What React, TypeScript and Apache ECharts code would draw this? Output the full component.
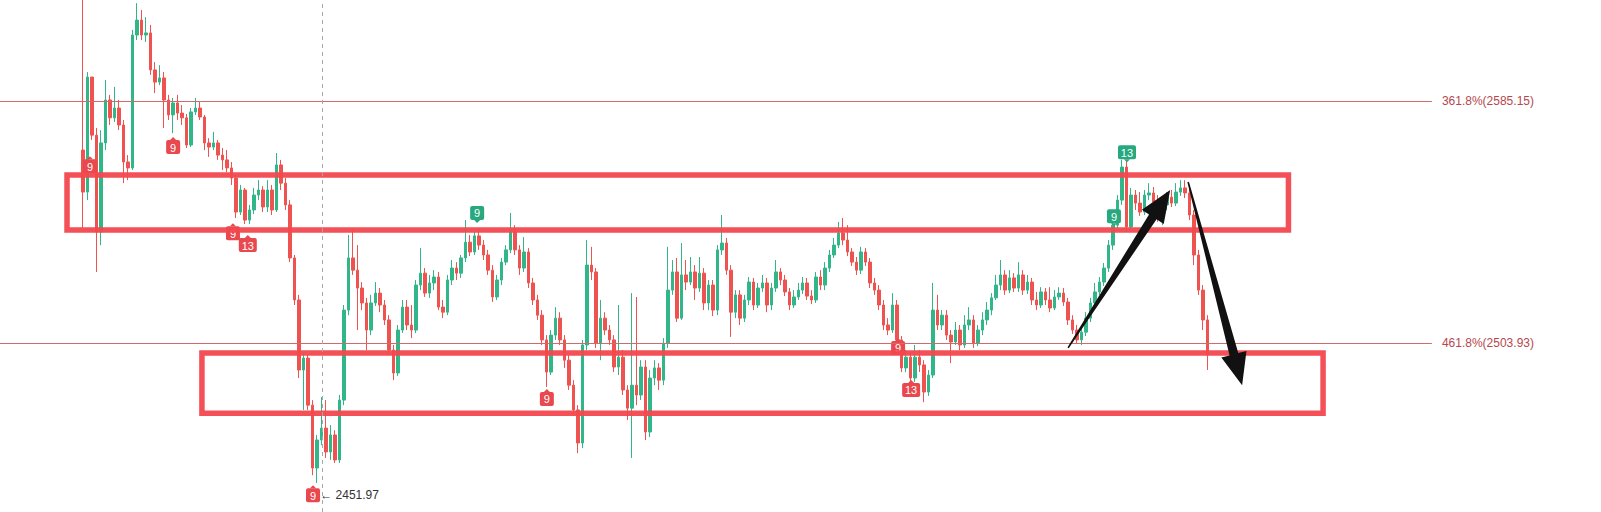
import React, { useEffect, useRef } from "react";
import * as echarts from "echarts";

// ---- axis extents (price units / bar index) ----
const Y_MIN = 2447.25;
const Y_MAX = 2619.05;
const X_MIN = -0.5;
const X_MAX = 355.5;

// ---- candles ----
const START_INDEX = 18;
const firstOpen = 2568.7;
const closes = [
  2554.6, 2593.2, 2573.7, 2541.2, 2571.1, 2585.5, 2579.5, 2582.8, 2577.1, 2564.7,
  2562.7, 2607.3, 2612.3, 2607.3, 2608.0, 2595.6, 2591.5, 2592.9, 2585.5, 2580.5,
  2584.5, 2581.1, 2579.5, 2570.4, 2581.5, 2582.8, 2579.8, 2571.1, 2569.7, 2571.1,
  2567.0, 2565.4, 2562.7, 2559.3, 2547.9, 2555.3, 2545.2, 2548.6, 2553.6, 2555.3,
  2549.6, 2555.3, 2548.6, 2563.7, 2557.6, 2550.3, 2532.5, 2518.4, 2494.9, 2498.9,
  2483.1, 2462.0, 2471.4, 2475.4, 2467.4, 2473.1, 2464.7, 2484.8, 2515.0, 2532.5,
  2528.4, 2522.4, 2517.4, 2508.3, 2517.4, 2520.7, 2516.7, 2511.7, 2501.6, 2493.9,
  2508.3, 2516.0, 2510.0, 2508.3, 2523.4, 2527.4, 2520.7, 2524.1, 2526.1, 2516.0,
  2514.3, 2525.1, 2529.1, 2527.4, 2532.5, 2537.8, 2534.5, 2539.9, 2536.8, 2533.5,
  2528.4, 2519.4, 2525.1, 2531.1, 2535.2, 2541.2, 2535.2, 2529.1, 2534.5, 2524.1,
  2518.4, 2513.3, 2505.0, 2494.2, 2506.6, 2512.3, 2505.0, 2498.2, 2489.8, 2481.5,
  2470.4, 2503.3, 2530.1, 2527.8, 2503.9, 2512.3, 2508.3, 2505.0, 2495.9, 2499.2,
  2488.2, 2482.1, 2489.8, 2486.5, 2495.9, 2474.1, 2492.2, 2495.6, 2491.5, 2503.9,
  2521.7, 2527.8, 2512.3, 2526.8, 2524.4, 2527.8, 2522.4, 2527.4, 2517.4, 2523.4,
  2515.0, 2535.2, 2537.5, 2528.4, 2514.3, 2520.1, 2512.3, 2518.4, 2524.4, 2516.7,
  2522.4, 2524.1, 2516.7, 2522.4, 2527.8, 2525.1, 2521.1, 2516.7, 2519.4, 2521.7,
  2524.1, 2519.7, 2518.4, 2526.1, 2523.4, 2529.1, 2533.5, 2536.8, 2540.9, 2538.5,
  2534.5, 2531.1, 2528.4, 2534.5, 2531.1, 2524.1, 2521.7, 2516.7, 2510.0, 2508.3,
  2516.7, 2505.0, 2495.6, 2499.2, 2492.2, 2499.2, 2496.6, 2487.5, 2493.2, 2515.0,
  2510.0, 2513.3, 2506.6, 2504.3, 2508.3, 2503.3, 2510.0, 2511.7, 2503.9, 2508.3,
  2511.7, 2515.0, 2519.1, 2523.4, 2526.8, 2521.7, 2525.8, 2522.4, 2526.8, 2521.7,
  2524.4, 2518.4, 2516.7, 2521.1, 2518.4, 2515.7, 2519.4, 2520.7, 2517.7, 2511.7,
  2508.3, 2505.0, 2507.6, 2512.3, 2517.4, 2521.1, 2524.4, 2529.1, 2536.8, 2543.5,
  2551.9, 2563.0, 2542.9, 2553.6, 2550.9, 2547.9, 2553.6, 2554.3, 2551.3, 2546.9,
  2550.3, 2552.9, 2550.9, 2554.6, 2556.0, 2554.3, 2546.9, 2533.5, 2521.7, 2511.7,
  2499.9,
];
const highs = [
  2630.0, 2594.9, 2589.5, 2576.1, 2575.4, 2592.2, 2587.2, 2589.9, 2585.5, 2578.8,
  2567.0, 2609.0, 2618.0, 2615.7, 2613.3, 2610.7, 2598.2, 2597.2, 2594.9, 2587.2,
  2586.2, 2587.2, 2583.8, 2580.8, 2582.8, 2586.2, 2584.8, 2580.5, 2572.7, 2574.8,
  2572.1, 2569.4, 2568.7, 2564.7, 2560.3, 2557.0, 2556.0, 2550.3, 2556.0, 2558.6,
  2556.6, 2558.6, 2557.0, 2567.7, 2565.4, 2559.3, 2551.9, 2533.5, 2520.1, 2500.9,
  2499.9, 2484.8, 2473.1, 2485.8, 2484.8, 2476.4, 2474.7, 2486.5, 2516.7, 2540.2,
  2541.9, 2536.8, 2524.4, 2519.1, 2520.1, 2524.4, 2522.4, 2518.4, 2513.3, 2503.3,
  2510.0, 2518.4, 2518.4, 2516.7, 2525.1, 2535.8, 2529.1, 2526.8, 2528.4, 2527.8,
  2518.4, 2526.8, 2531.8, 2531.1, 2533.5, 2545.2, 2540.2, 2541.2, 2542.5, 2538.5,
  2535.2, 2530.1, 2526.8, 2532.5, 2536.8, 2547.6, 2543.5, 2536.8, 2539.5, 2535.8,
  2525.8, 2520.1, 2515.0, 2506.6, 2508.3, 2516.0, 2514.3, 2506.6, 2499.9, 2491.5,
  2483.1, 2505.0, 2538.5, 2536.2, 2529.1, 2518.4, 2514.3, 2510.0, 2506.6, 2516.7,
  2501.6, 2489.8, 2520.7, 2519.4, 2498.2, 2498.2, 2494.9, 2498.2, 2497.2, 2505.6,
  2536.2, 2531.8, 2532.5, 2537.5, 2531.8, 2532.8, 2530.1, 2532.8, 2529.1, 2525.1,
  2525.1, 2536.8, 2546.9, 2539.2, 2530.1, 2521.7, 2521.7, 2520.1, 2526.1, 2525.8,
  2524.1, 2526.8, 2525.8, 2524.1, 2531.8, 2529.1, 2526.8, 2522.4, 2521.7, 2524.1,
  2526.1, 2525.8, 2521.7, 2527.8, 2528.4, 2531.1, 2535.2, 2539.2, 2544.6, 2545.9,
  2543.5, 2535.8, 2532.8, 2536.2, 2535.8, 2532.5, 2525.8, 2523.4, 2518.4, 2512.3,
  2520.7, 2518.4, 2506.3, 2501.6, 2500.9, 2503.3, 2501.6, 2498.2, 2494.9, 2524.1,
  2520.1, 2515.0, 2515.0, 2508.3, 2511.0, 2510.0, 2513.3, 2516.0, 2513.3, 2510.0,
  2514.3, 2517.7, 2520.7, 2526.8, 2531.8, 2528.4, 2528.4, 2527.4, 2531.1, 2528.4,
  2526.8, 2525.8, 2521.1, 2522.7, 2522.4, 2522.7, 2521.7, 2522.7, 2522.4, 2519.1,
  2513.3, 2510.0, 2509.0, 2514.3, 2519.1, 2524.1, 2526.1, 2530.8, 2538.5, 2545.2,
  2553.6, 2565.4, 2565.4, 2556.0, 2555.3, 2554.6, 2555.3, 2557.6, 2556.3, 2553.6,
  2551.9, 2554.6, 2555.3, 2557.6, 2558.6, 2558.6, 2557.0, 2548.6, 2535.2, 2523.4,
  2513.3,
];
const lows = [
  2542.5, 2551.9, 2572.1, 2527.8, 2536.8, 2568.7, 2577.1, 2578.1, 2575.4, 2557.6,
  2558.6, 2562.0, 2605.6, 2605.6, 2605.0, 2593.9, 2587.8, 2590.5, 2576.1, 2578.8,
  2574.4, 2578.8, 2577.1, 2569.4, 2569.7, 2580.5, 2578.8, 2568.7, 2566.4, 2568.7,
  2565.4, 2562.0, 2561.3, 2557.0, 2545.9, 2546.9, 2543.9, 2543.9, 2547.2, 2551.9,
  2547.9, 2547.9, 2546.9, 2547.9, 2555.3, 2548.6, 2531.1, 2516.7, 2492.2, 2481.5,
  2481.5, 2459.6, 2457.0, 2469.7, 2465.4, 2464.7, 2463.7, 2463.7, 2483.1, 2513.3,
  2526.8, 2508.3, 2515.0, 2501.6, 2506.6, 2516.4, 2514.3, 2510.0, 2499.9, 2491.5,
  2492.9, 2507.3, 2508.3, 2505.6, 2507.3, 2521.7, 2519.4, 2519.1, 2521.7, 2515.0,
  2512.3, 2513.3, 2523.4, 2525.1, 2525.8, 2531.1, 2533.1, 2533.5, 2535.2, 2531.8,
  2526.8, 2517.7, 2518.4, 2523.4, 2530.1, 2534.1, 2533.5, 2526.8, 2527.8, 2522.4,
  2516.7, 2511.7, 2503.3, 2489.2, 2493.2, 2505.0, 2503.3, 2495.6, 2488.2, 2479.8,
  2467.0, 2468.7, 2501.6, 2525.1, 2502.3, 2498.2, 2506.6, 2503.3, 2494.2, 2493.2,
  2486.5, 2478.1, 2465.4, 2483.1, 2484.8, 2471.4, 2472.4, 2489.8, 2488.2, 2489.8,
  2502.3, 2520.1, 2511.0, 2511.7, 2521.7, 2523.4, 2518.4, 2521.1, 2515.0, 2515.0,
  2513.0, 2513.3, 2533.5, 2526.8, 2506.0, 2512.3, 2510.0, 2511.0, 2516.7, 2515.0,
  2515.7, 2521.1, 2514.3, 2515.0, 2521.1, 2523.4, 2519.7, 2515.0, 2515.7, 2518.4,
  2520.4, 2518.4, 2517.0, 2517.4, 2521.7, 2521.7, 2527.8, 2532.5, 2535.8, 2536.8,
  2533.1, 2529.8, 2526.8, 2527.1, 2529.8, 2522.4, 2520.1, 2515.0, 2508.3, 2506.6,
  2507.3, 2503.3, 2494.2, 2494.2, 2490.9, 2490.9, 2494.2, 2484.1, 2486.2, 2492.2,
  2508.3, 2508.3, 2505.0, 2497.2, 2503.3, 2501.6, 2502.3, 2508.3, 2502.3, 2502.9,
  2506.6, 2510.0, 2513.3, 2518.4, 2521.7, 2520.1, 2520.7, 2521.1, 2521.1, 2520.1,
  2520.4, 2516.7, 2515.0, 2515.7, 2516.7, 2514.3, 2515.0, 2518.4, 2516.4, 2510.0,
  2507.0, 2503.6, 2503.3, 2506.3, 2511.0, 2516.4, 2520.1, 2523.1, 2527.8, 2535.2,
  2542.5, 2550.3, 2541.2, 2541.9, 2548.6, 2546.6, 2546.9, 2551.9, 2549.3, 2544.6,
  2543.5, 2548.6, 2549.6, 2549.9, 2553.3, 2552.6, 2545.2, 2530.1, 2520.1, 2508.3,
  2494.9,
];

// ---- fibonacci levels ----
const fibValues = [2585.15, 2503.93];
const fibLabels = ["361.8%(2585.15)", "461.8%(2503.93)"];
const fibStart = -0.5;
const fibEnd = 317.9;

// ---- crosshair ----
const crosshairX = 71.1;

// ---- drawn boxes [x1, top, x2, bottom] ----
const boxes = [
  [14.4, 2560.3, 286.0, 2541.9],
  [44.4, 2500.6, 293.7, 2480.4],
];

// ---- drawn arrows [x1, y1, x2(tip), y2(tip)] ----
const arrows = [
  [237.0, 2502.3, 259.7, 2555.3],
  [263.7, 2558.0, 275.7, 2489.8],
];

// ---- TD sequential markers ----
const markerX = [19.5, 38.0, 51.3, 54.6, 105.6, 69.1, 121.1, 199.2, 202.1, 250.1, 247.2];
const markerY = [2563.3, 2569.7, 2540.8, 2536.8, 2547.6, 2452.9, 2485.2, 2502.3, 2488.2, 2568.0, 2546.5];
const markerText = ["9", "9", "9", "13", "9", "9", "9", "9", "13", "13", "9"];
const markerSide = ["below", "below", "below", "below", "above", "below", "below", "below", "below", "above", "above"];

// ---- low price label ----
const lowLabelX = 70.7;
const lowLabelY = 2452.9;
const lowLabelText = "\u2190 2451.97";

const UP = "#31b68a";
const DOWN = "#ef5350";
const MARK_UP = "#27a87e";
const MARK_DOWN = "#e8484e";
const BOX = "#f2484e";
const FONT = "'Liberation Sans', Arial, sans-serif";

export default function App() {
  const ref = useRef<HTMLDivElement>(null);

  useEffect(() => {
    if (!ref.current) return;
    const chart = echarts.init(ref.current, null, { renderer: "svg" });

    const candleData = closes.map((c, k) => {
      const o = k === 0 ? firstOpen : closes[k - 1];
      return [START_INDEX + k, o, c, lows[k], highs[k]];
    });

    const fibLines: any[] = fibValues.map((v, i) => [
      {
        coord: [fibStart, v],
        label: {
          show: true,
          position: "end",
          formatter: fibLabels[i],
          color: "#b4484d",
          fontSize: 12,
          fontFamily: FONT,
          distance: 10,
        },
      },
      { coord: [fibEnd, v] },
    ]);

    const option: any = {
      animation: false,
      backgroundColor: "#ffffff",
      grid: { left: 0, right: 0, top: 0, bottom: 0 },
      xAxis: {
        type: "value",
        min: X_MIN,
        max: X_MAX,
        show: false,
        splitLine: { show: false },
      },
      yAxis: {
        type: "value",
        min: Y_MIN,
        max: Y_MAX,
        show: false,
        splitLine: { show: false },
      },
      series: [
        {
          type: "candlestick",
          data: candleData,
          encode: { x: 0, y: [1, 2, 3, 4] },
          barWidth: 3,
          clip: true,
          z: 2,
          itemStyle: {
            color: UP,
            color0: DOWN,
            borderColor: UP,
            borderColor0: DOWN,
            borderWidth: 1,
          },
          markLine: {
            silent: true,
            symbol: ["none", "none"],
            animation: false,
            lineStyle: { color: "#cf6a6e", width: 1, type: "solid" },
            data: [
              ...fibLines,
              {
                xAxis: crosshairX,
                label: { show: false },
                lineStyle: { color: "#a8a8a8", width: 1, type: [4, 4] },
              },
            ],
          },
        },
        {
          type: "custom",
          z: 3,
          data: markerX.map((x, i) => [x, markerY[i]]),
          encode: { x: 0, y: 1 },
          renderItem: (params: any, api: any) => {
            const i = params.dataIndex;
            const p = api.coord([api.value(0), api.value(1)]);
            const t = markerText[i];
            const w = t.length > 1 ? 18 : 14;
            const h = 14;
            const above = markerSide[i] === "above";
            const col = above ? MARK_UP : MARK_DOWN;
            const notch = above
              ? [[p[0] - 3, p[1] + h / 2], [p[0] + 3, p[1] + h / 2], [p[0], p[1] + h / 2 + 3]]
              : [[p[0] - 3, p[1] - h / 2], [p[0] + 3, p[1] - h / 2], [p[0], p[1] - h / 2 - 3]];
            return {
              type: "group",
              children: [
                {
                  type: "rect",
                  shape: { x: p[0] - w / 2, y: p[1] - h / 2, width: w, height: h, r: 2 },
                  style: { fill: col },
                },
                { type: "polygon", shape: { points: notch }, style: { fill: col } },
                {
                  type: "text",
                  x: p[0],
                  y: p[1] + 0.5,
                  style: {
                    text: t,
                    fill: "#ffffff",
                    fontSize: 11,
                    fontFamily: FONT,
                    align: "center",
                    verticalAlign: "middle",
                  },
                },
              ],
            };
          },
        },
        {
          type: "custom",
          z: 3,
          data: [[lowLabelX, lowLabelY]],
          encode: { x: 0, y: 1 },
          renderItem: (params: any, api: any) => {
            const p = api.coord([api.value(0), api.value(1)]);
            return {
              type: "text",
              x: p[0],
              y: p[1],
              style: {
                text: lowLabelText,
                fill: "#333333",
                fontSize: 12,
                fontFamily: FONT,
                align: "left",
                verticalAlign: "middle",
              },
            };
          },
        },
        {
          type: "custom",
          z: 4,
          data: boxes,
          encode: { x: [0, 2], y: [1, 3] },
          renderItem: (params: any, api: any) => {
            const a = api.coord([api.value(0), api.value(1)]);
            const b = api.coord([api.value(2), api.value(3)]);
            return {
              type: "rect",
              shape: {
                x: Math.min(a[0], b[0]),
                y: Math.min(a[1], b[1]),
                width: Math.abs(b[0] - a[0]),
                height: Math.abs(b[1] - a[1]),
              },
              style: { fill: "none", stroke: BOX, lineWidth: 5.5, opacity: 0.95 },
            };
          },
        },
        {
          type: "custom",
          z: 5,
          data: arrows,
          encode: { x: [0, 2], y: [1, 3] },
          renderItem: (params: any, api: any) => {
            const t = api.coord([api.value(0), api.value(1)]);
            const p = api.coord([api.value(2), api.value(3)]);
            const dx = p[0] - t[0];
            const dy = p[1] - t[1];
            const len = Math.sqrt(dx * dx + dy * dy) || 1;
            const ux = dx / len;
            const uy = dy / len;
            const nx = -uy;
            const ny = ux;
            const headLen = 32;
            const headW = 13;
            const shaftW = 4.5;
            const tailW = 0.8;
            const bx = p[0] - ux * headLen;
            const by = p[1] - uy * headLen;
            const pts = [
              [t[0] + nx * tailW, t[1] + ny * tailW],
              [bx + nx * shaftW, by + ny * shaftW],
              [bx + nx * headW, by + ny * headW],
              [p[0], p[1]],
              [bx - nx * headW, by - ny * headW],
              [bx - nx * shaftW, by - ny * shaftW],
              [t[0] - nx * tailW, t[1] - ny * tailW],
            ];
            return {
              type: "polygon",
              shape: { points: pts },
              style: { fill: "#111111" },
            };
          },
        },
      ],
    };

    chart.setOption(option);
    return () => chart.dispose();
  }, []);

  return (
    <div
      ref={ref}
      style={{
        position: "fixed",
        left: 0,
        top: 0,
        width: 1601,
        height: 512,
        background: "#ffffff",
      }}
    />
  );
}
